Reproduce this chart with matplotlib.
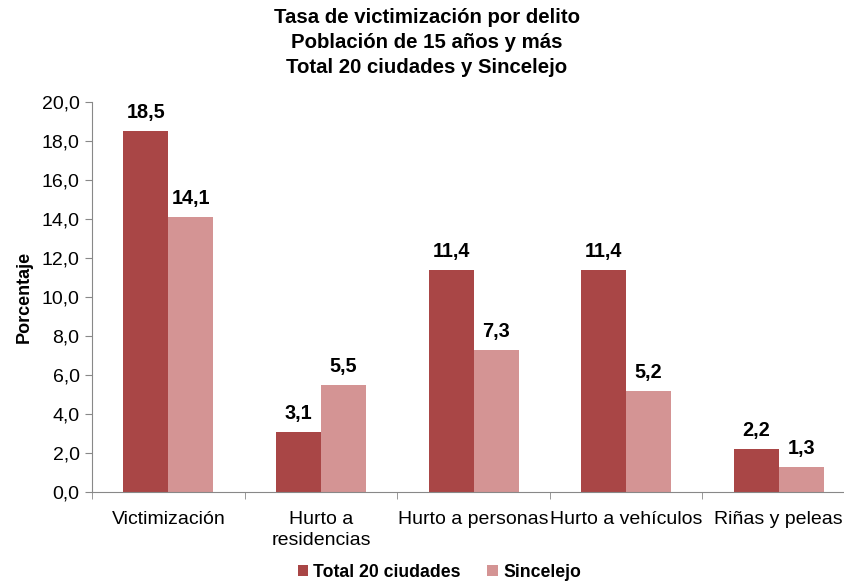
import matplotlib.pyplot as plt
import numpy as np

plt.rcParams['font.family'] = ['Liberation Sans', 'DejaVu Sans']

categorias = ['Victimización', 'Hurto a\nresidencias', 'Hurto a personas', 'Hurto a vehículos', 'Riñas y peleas']
total_20 = [18.5, 3.1, 11.4, 11.4, 2.2]
sincelejo = [14.1, 5.5, 7.3, 5.2, 1.3]
yticks = [0, 2, 4, 6, 8, 10, 12, 14, 16, 18, 20]

fig = plt.figure(figsize=(8.45, 5.87), dpi=100)
ax = fig.add_axes([0.1089, 0.1618, 0.903, 0.6644])

x = np.arange(len(categorias))
w = 0.295
b1 = ax.bar(x - w/2, total_20, w, color='#A94646', label='Total 20 ciudades')
b2 = ax.bar(x + w/2, sincelejo, w, color='#D49494', label='Sincelejo')

for bars, vals in [(b1, total_20), (b2, sincelejo)]:
    for r, v in zip(bars, vals):
        ax.text(r.get_x() + r.get_width()/2, v + 0.45, ('%.1f' % v).replace('.', ','),
                ha='center', va='bottom', fontsize=14.3, fontweight='bold')

ax.set_xlim(-0.5, len(categorias) - 0.5)
ax.set_ylim(0, 20)
ax.set_yticks(yticks)
ax.set_yticklabels([('%.1f' % t).replace('.', ',') for t in yticks], fontsize=14)
ax.set_xticks(x)
ax.set_xticklabels(categorias, fontsize=14, linespacing=1.25)
ax.set_xticks(np.arange(len(categorias) + 1) - 0.5, minor=True)
ax.tick_params(axis='x', which='major', length=0, pad=14)
ax.tick_params(axis='x', which='minor', length=5, color='#888888')
ax.tick_params(axis='y', length=5, color='#888888', pad=4)

for s in ['top', 'right']:
    ax.spines[s].set_visible(False)
ax.spines['left'].set_color('#888888')
ax.spines['bottom'].set_color('#888888')

ax.set_ylabel('Porcentaje', fontsize=13, fontweight='bold', labelpad=6)
fig.text(0.505, 1 - 8/587, 'Tasa de victimización por delito\nPoblación de 15 años y más\nTotal 20 ciudades y Sincelejo',
         ha='center', va='top', fontsize=14.7, fontweight='bold', linespacing=1.4)

leg = fig.legend(handles=[b1, b2], loc='lower center', bbox_to_anchor=(0.52, -0.017), ncol=2,
                 frameon=False, prop={'size': 12.7, 'weight': 'bold'},
                 handlelength=0.6, handleheight=0.6, handletextpad=0.3, columnspacing=1.5)

fig.savefig('out.png', dpi=100)
